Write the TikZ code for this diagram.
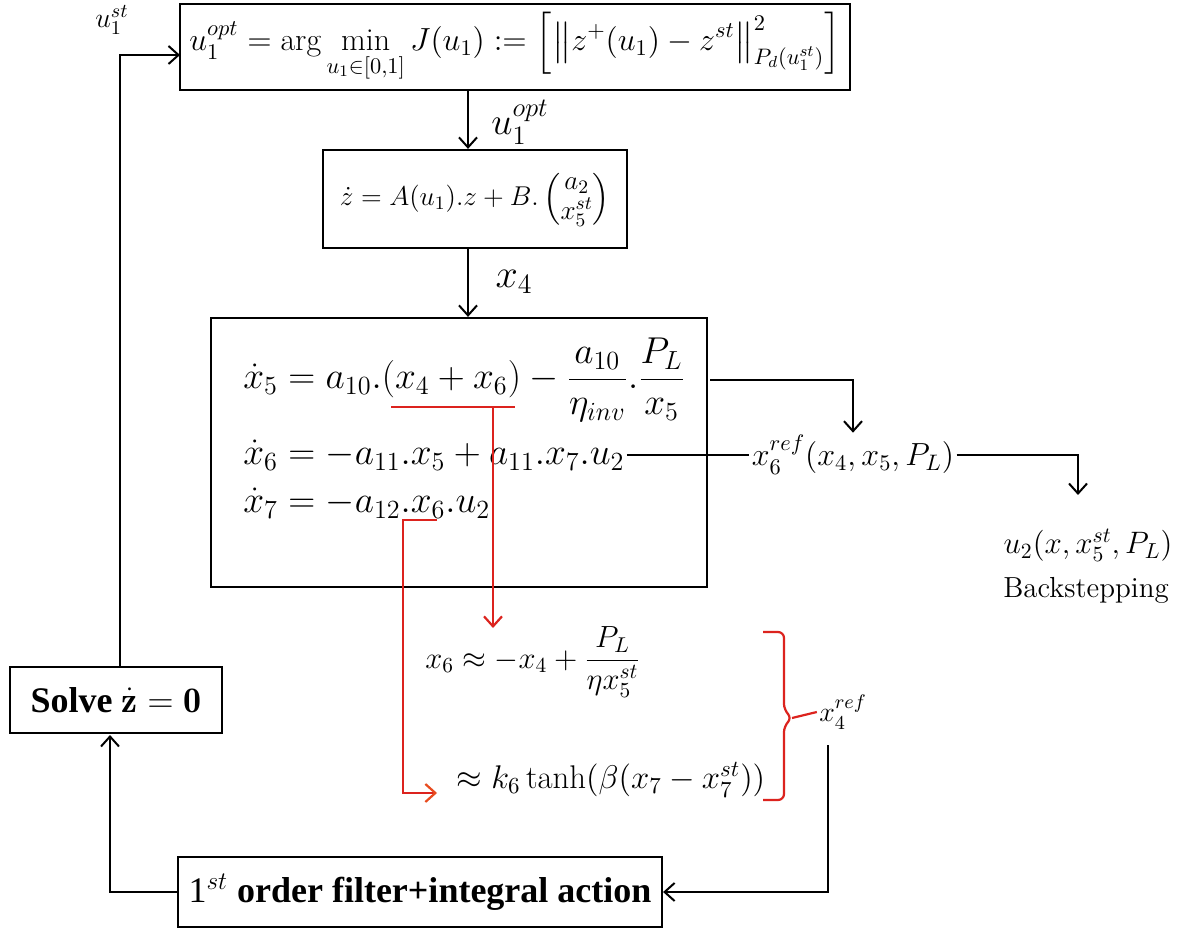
\RequirePackage{fix-cm}
\documentclass[tikz,border=0pt]{standalone}
\usepackage{amsmath}
\usepackage{fontspec}
\newfontfamily\timesfont{Liberation Serif}
\usetikzlibrary{arrows.meta}
\newcommand{\fsz}[1]{\fontsize{#1}{#1}\selectfont}
\definecolor{redln}{RGB}{220,35,30}
\definecolor{orangeln}{RGB}{232,75,30}
\begin{document}
\begin{tikzpicture}[x=0.5pt,y=-0.5pt,
  box/.style={draw=black, line width=1.1pt, inner sep=0pt, fill=white},
  lbl/.style={inner sep=1pt},
  conn/.style={line width=1pt, draw=black},
  arr/.style={conn, -{Straight Barb[length=5pt,width=9pt]}},
  redc/.style={line width=1.1pt, draw=redln},
  redarr/.style={redc, -{Straight Barb[length=5pt,width=9pt]}},
  orarr/.style={line width=1.1pt, draw=redln, -{Straight Barb[length=5pt,width=9pt,color=orangeln]}}
]
\useasboundingbox (0,0) rectangle (1187,929);
\fill[white] (0,0) rectangle (1187,929);

% boxes
\node[box, minimum width=335pt, minimum height=43pt, font=\fsz{16}] (top) at (515,47)
  {$\displaystyle u_1^{opt} = \arg\min_{u_1\in[0,1]} J(u_1) := \left[\left\|z^+(u_1)-z^{st}\right\|^2_{P_d(u_1^{st})}\right]$};
\node[box, minimum width=152pt, minimum height=49pt, font=\fsz{13.6}] (sys) at (475,199)
  {$\dot z = A(u_1).z + B.\begin{pmatrix} a_2\\ x_5^{st}\end{pmatrix}$};
\node[box, minimum width=248pt, minimum height=134.5pt] (dyn) at (459,452.5) {};
\node[box, minimum width=106pt, minimum height=33pt, font=\fsz{18}] (solve) at (116,700)
  {\timesfont\bfseries Solve $\dot{\mathbf z}=\mathbf{0}$};
\node[box, minimum width=242pt, minimum height=35pt, font=\fsz{18}] (filt) at (420,892)
  {\timesfont 1$^{st}$ \bfseries order filter+integral action};

% equations inside dyn
\node[lbl, anchor=west, font=\fsz{18.7}] (e5) at (241,380)
  {$\dot x_5 = a_{10}.(x_4+x_6) - \dfrac{a_{10}}{\eta_{inv}}.\dfrac{P_L}{x_5}$};
\node[lbl, anchor=west, font=\fsz{18.7}] (e6) at (241,455)
  {$\dot x_6 = -a_{11}.x_5 + a_{11}.x_7.u_2$};
\node[lbl, anchor=west, font=\fsz{18.7}] (e7) at (241,503)
  {$\dot x_7 = -a_{12}.x_6.u_2$};

% labels
\node[lbl, font=\fsz{14}] (ust) at (112,20) {$u_1^{st}$};
\node[lbl, font=\fsz{19}] (uopt) at (520,122) {$u_1^{opt}$};
\node[lbl, font=\fsz{20}] (x4l) at (514,282) {$x_4$};
\node[lbl, font=\fsz{16}] (x6r) at (853,455) {$x_6^{ref}(x_4,x_5,P_L)$};
\node[lbl, font=\fsz{15.5}] (u2) at (1088,545) {$u_2(x,x_5^{st},P_L)$};
\node[lbl, font=\fsz{14.5}] (bs) at (1086,590) {Backstepping};
\node[lbl, font=\fsz{15.3}] (x6a) at (533,662) {$x_6 \approx -x_4 + \dfrac{P_L}{\eta x_5^{st}}$};
\node[lbl, font=\fsz{16.4}] (tanh) at (611,780) {$\approx k_6\tanh(\beta(x_7-x_7^{st}))$};
\node[lbl, font=\fsz{14}] (x4r) at (843,712) {$x_4^{ref}$};

% connectors (black)
\draw[arr] (top.south -| 468,0) -- (sys.north -| 468,0);
\draw[arr] (sys.south -| 468,0) -- (dyn.north -| 468,0);
\coordinate (e5o) at (710,380);
\draw[arr] (e5o) -- (e5o -| x6r.north) -- (x6r.north);
\draw[conn] (e6.east) -- (x6r.west);
\coordinate (u2in) at (1078,495);
\draw[arr] (x6r.east) -| (u2in);
\coordinate (x4out) at (828,745);
\draw[arr] (x4out) |- (filt.east);
\coordinate (solvein) at (110,735);
\draw[arr] (filt.west) -| (solvein);
\coordinate (solveout) at (120,667);
\coordinate (topin) at (180,55);
\draw[arr] (solveout) |- (topin);

% red connectors
\coordinate (ul1) at (391,407);
\coordinate (ul2) at (515,407);
\coordinate (rd1) at (493,407);
\draw[redc] (ul1) -- (ul2);
\draw[redarr] (rd1) -- (493,628);
\coordinate (r2a) at (437,520);
\coordinate (r2b) at (403,520);
\coordinate (r2c) at (403,793);
\coordinate (r2d) at (437,793);
\draw[orarr] (r2a) -- (r2b) -- (r2c) -- (r2d);

% brace
\draw[redc, rounded corners=3pt] (763,632) -- (784,632) -- (784,710) -- (792,718) -- (784,726) -- (784,800) -- (763,800);
\draw[redc] (792,718) -- (x4r.west);
\end{tikzpicture}
\end{document}
